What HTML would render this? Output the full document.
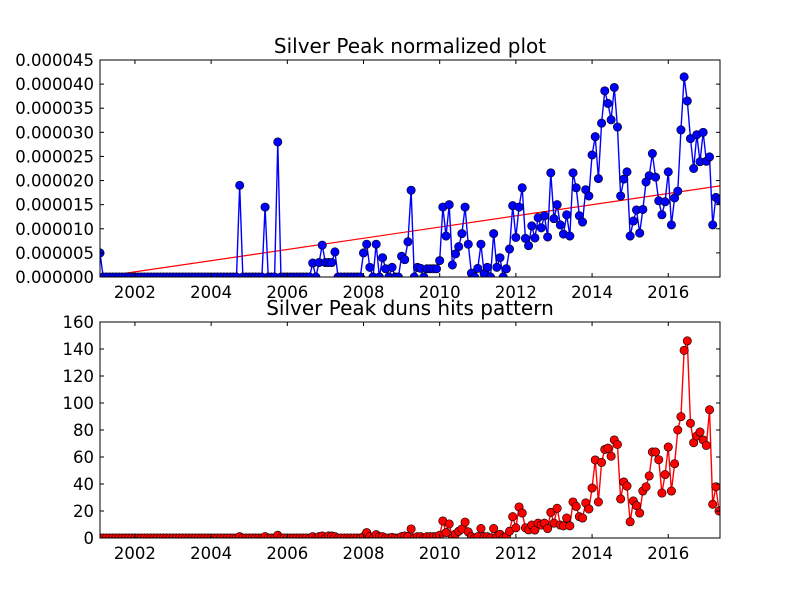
<!DOCTYPE html>
<html>
<head>
<meta charset="utf-8">
<style>
  html,body{margin:0;padding:0;background:#fff;}
  svg{display:block;font-family:"DejaVu Sans","Liberation Sans",sans-serif;}
</style>
</head>
<body>
<svg id="fig" width="800" height="600" viewBox="0 0 800 600" xmlns="http://www.w3.org/2000/svg">
  <rect x="0" y="0" width="800" height="600" fill="#ffffff"/>
</svg>
<script>
// ---- data (month index 0 = Feb 2001) ----
const normValues = [5,0,0,0,0,0,0,0,0,0, 0,0,0,0,0,0,0,0,0,0,
 0,0,0,0,0,0,0,0,0,0, 0,0,0,0,0,0,0,0,0,0,
 0,0,0,0,19,0,0,0,0,0, 0,0,14.5,0,0,0,28,0,0,0,
 0,0,0,0,0,0,0,2.9,0,3, 6.6,3,3,3,5.2,0,0,0,0,0,
 0,0,0,5,6.8,2,0,6.8,0,4, 1.7,0,2,0,0,4.3,3.6,7.3,18,0,
 2,1.8,0,1.7,1.7,1.7,1.7,3.4,14.5,8.5, 15,2.5,4.8,6.3,9,14.5,6.8,0.8,0,1.8,
 6.8,0.7,2,0,9,2,4,0,1.7,5.8, 14.8,8.2,14.5,18.5,8,6.5,
 10.6,8.1,12.3,10.2,12.7,8.3,21.6,12.1,15,10.8,
 8.9,12.9,8.5,21.6,18.5,12.7,11.4,18.1,16.8,25.3,
 29.1,20.4,31.9,38.6,36,32.6,39.3,31.1,16.8,20.3,
 21.8,8.5,11.6,13.9,9.1,14,19.7,21,25.6,20.7,
 15.8,12.9,15.6,21.8,10.8,16.4,17.8,30.5,41.5,36.5,
 28.7,22.5,29.5,23.9,30,24,24.9,10.8,16.5,16];
const hitsValues = [0,0,0,0,0,0,0,0,0,0, 0,0,0,0,0,0,0,0,0,0,
 0,0,0,0,0,0,0,0,0,0, 0,0,0,0,0,0,0,0,0,0,
 0,0,0,0,1,0,0,0,0,0, 0,0,1,0,0,0,2,0,0,0,
 0,0,0,0,0,0,0,1,0,1, 1.5,0,1.5,1.5,1,0,0,0,0,0,
 0,0,0,1,4,1,0,2.5,1,1, 0,0,0.5,0,0,1,1.5,1,6.7,0,
 1,1,0,1,1,1,1,2,12.6,4, 10.4,0,3,5,6.7,11.8,4.5,1,0,1,
 7,1,1,0,7,1,2.7,0,1,5, 15.8,7.5,23,18.5,7.5,6,
 9.6,5.9,11,9.6,11,7,19,11,22,9.6,
 9,14.8,9,26.7,23.4,15.8,14.8,26,21.5,37,
 57.8,26.7,56,65.6,66.6,60.6,72.6,69.3,28.9,41.5,
 38.5,12,27.4,23.9,18.5,34.8,37.9,46,63.7,63.7,
 58,33.3,47,67.4,34.8,55,80,89.9,139,146,
 85,70.6,75.6,78.5,72.6,68.6,95,25,38,20];
const yearTicks = [2002,2004,2006,2008,2010,2012,2014,2016];
const normTicks = [0,5,10,15,20,25,30,35,40,45];
const normTickLabels = ["0.000000","0.000005","0.000010","0.000015","0.000020","0.000025","0.000030","0.000035","0.000040","0.000045"];
const hitsTicks = [0,20,40,60,80,100,120,140,160];
const trendStart = [0];
const trendEnd = [18.9];

const NS="http://www.w3.org/2000/svg";
const svg=document.getElementById('fig');
function el(tag,attrs,parent){const e=document.createElementNS(NS,tag);for(const k in attrs)e.setAttribute(k,attrs[k]);(parent||svg).appendChild(e);return e;}

const X0=100,X1=720, M0=0, M1=195.3;
function xm(i){return X0+(i-M0)/(M1-M0)*(X1-X0);}
function xy(yr){return xm((yr-2001.083)*12);}

function drawPanel(p){
  const {top,bottom,ymax,values,ticks,labels,color,title,name,trend}=p;
  const ys=v=>bottom-v/ymax*(bottom-top);
  const g=el('g',{});
  
  
  const cid='clip-'+name;
  const cp=el('clipPath',{id:cid},g);
  el('rect',{x:X0,y:top,width:X1-X0,height:bottom-top},cp);
  const plot=el('g',{'clip-path':'url(#'+cid+')'},g);
  if(trend){
    const tl=el('line',{x1:xm(0),y1:ys(trend[0]),x2:xm(M1),y2:ys(trend[1]),stroke:'#ff0000','stroke-width':1.2},plot);
    
    
  }
  let d='';
  values.forEach((v,i)=>{d+=(i?'L':'M')+xm(i).toFixed(2)+','+ys(v).toFixed(2);});
  const line=el('path',{d:d,fill:'none',stroke:color,'stroke-width':1.4},plot);
  
  
  values.forEach((v,i)=>{
    const c=el('circle',{cx:xm(i),cy:ys(v),r:4.2,fill:color,stroke:'#000','stroke-width':0.6},plot);
    
    
  });
  const fr=el('rect',{x:X0,y:top,width:X1-X0,height:bottom-top,fill:'none',stroke:'#000','stroke-width':1},g);
  
  
  ticks.forEach((t,k)=>{
    const y=ys(t);
    el('line',{x1:X0,y1:y,x2:X0+4,y2:y,stroke:'#000'},g);
    el('line',{x1:X1,y1:y,x2:X1-4,y2:y,stroke:'#000'},g);
    const tx=el('text',{x:X0-6,y:y+6,'text-anchor':'end','font-size':16.5,fill:'#000'},g);
    tx.textContent=labels[k];
    
    
  });
  yearTicks.forEach(yr=>{
    const x=xy(yr);
    el('line',{x1:x,y1:bottom,x2:x,y2:bottom-4,stroke:'#000'},g);
    el('line',{x1:x,y1:top,x2:x,y2:top+4,stroke:'#000'},g);
    const tx=el('text',{x:x,y:bottom+21,'text-anchor':'middle','font-size':16.5,fill:'#000'},g);
    tx.textContent=String(yr);
    
    
  });
  const tt=el('text',{x:(X0+X1)/2,y:top-7,'text-anchor':'middle','font-size':20,fill:'#000'},g);
  tt.textContent=title;
  
  
}

drawPanel({top:60,bottom:277,ymax:45,values:normValues,ticks:normTicks,labels:normTickLabels,color:'#0000ff',title:'Silver Peak normalized plot',name:'normalized',trend:[trendStart[0],trendEnd[0]]});
drawPanel({top:322,bottom:538,ymax:160,values:hitsValues,ticks:hitsTicks,labels:hitsTicks.map(String),color:'#ff0000',title:'Silver Peak duns hits pattern',name:'hits'});
</script>
</body>
</html>
